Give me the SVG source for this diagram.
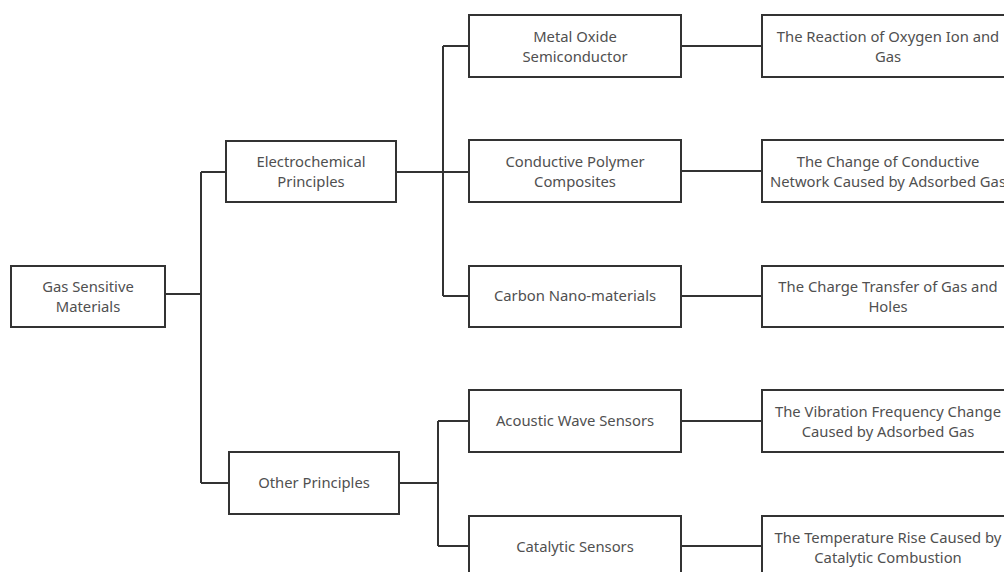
<svg xmlns="http://www.w3.org/2000/svg" width="1004" height="572" viewBox="0 0 1004 572">
<style>
.box{fill:#fff;stroke:#333;stroke-width:2}
.t{font-family:"Noto Sans","Liberation Sans",sans-serif;font-size:14.8px;fill:#505050;text-anchor:middle}
.c{fill:none;stroke:#333;stroke-width:2}
</style>
<rect width="1004" height="572" fill="#fff"/>
<g id="connectors">
<path class="c" d="M165 294H201M201 172V483M201 172H227M201 483H230"/>
<path class="c" d="M396 172H470M443 46V296M443 46H470M443 296H470"/>
<path class="c" d="M399 483H438M438 421V546M438 421H470M438 546H470"/>
<path class="c" d="M681 46H762M681 171H762M681 296H762M681 421H762M681 546H762"/>
</g>
<g id="n_root"><rect class="box" x="11" y="266" width="154" height="61"/><text class="t" x="88" y="292">Gas Sensitive</text><text class="t" x="88" y="312">Materials</text></g>
<g id="n_electro"><rect class="box" x="226" y="141" width="170" height="61"/><text class="t" x="311" y="167">Electrochemical</text><text class="t" x="311" y="187">Principles</text></g>
<g id="n_other"><rect class="box" x="229" y="452" width="170" height="62"/><text class="t" x="314" y="488">Other Principles</text></g>
<g id="n_mos"><rect class="box" x="469" y="15" width="212" height="62"/><text class="t" x="575" y="42">Metal Oxide</text><text class="t" x="575" y="62">Semiconductor</text></g>
<g id="n_cpc"><rect class="box" x="469" y="140" width="212" height="62"/><text class="t" x="575" y="167">Conductive Polymer</text><text class="t" x="575" y="187">Composites</text></g>
<g id="n_cnm"><rect class="box" x="469" y="266" width="212" height="61"/><text class="t" x="575" y="301">Carbon Nano-materials</text></g>
<g id="n_aws"><rect class="box" x="469" y="390" width="212" height="62"/><text class="t" x="575" y="426">Acoustic Wave Sensors</text></g>
<g id="n_cat"><rect class="box" x="469" y="516" width="212" height="62"/><text class="t" x="575" y="552">Catalytic Sensors</text></g>
<g id="n_r1"><rect class="box" x="762" y="15" width="250" height="62"/><text class="t" x="888" y="42">The Reaction of Oxygen Ion and</text><text class="t" x="888" y="62">Gas</text></g>
<g id="n_r2"><rect class="box" x="762" y="140" width="250" height="62"/><text class="t" x="888" y="167">The Change of Conductive</text><text class="t" x="888" y="187">Network Caused by Adsorbed Gas</text></g>
<g id="n_r3"><rect class="box" x="762" y="266" width="250" height="61"/><text class="t" x="888" y="292">The Charge Transfer of Gas and</text><text class="t" x="888" y="312">Holes</text></g>
<g id="n_r4"><rect class="box" x="762" y="390" width="250" height="62"/><text class="t" x="888" y="417">The Vibration Frequency Change</text><text class="t" x="888" y="437">Caused by Adsorbed Gas</text></g>
<g id="n_r5"><rect class="box" x="762" y="516" width="250" height="62"/><text class="t" x="888" y="543">The Temperature Rise Caused by</text><text class="t" x="888" y="563">Catalytic Combustion</text></g>
</svg>
